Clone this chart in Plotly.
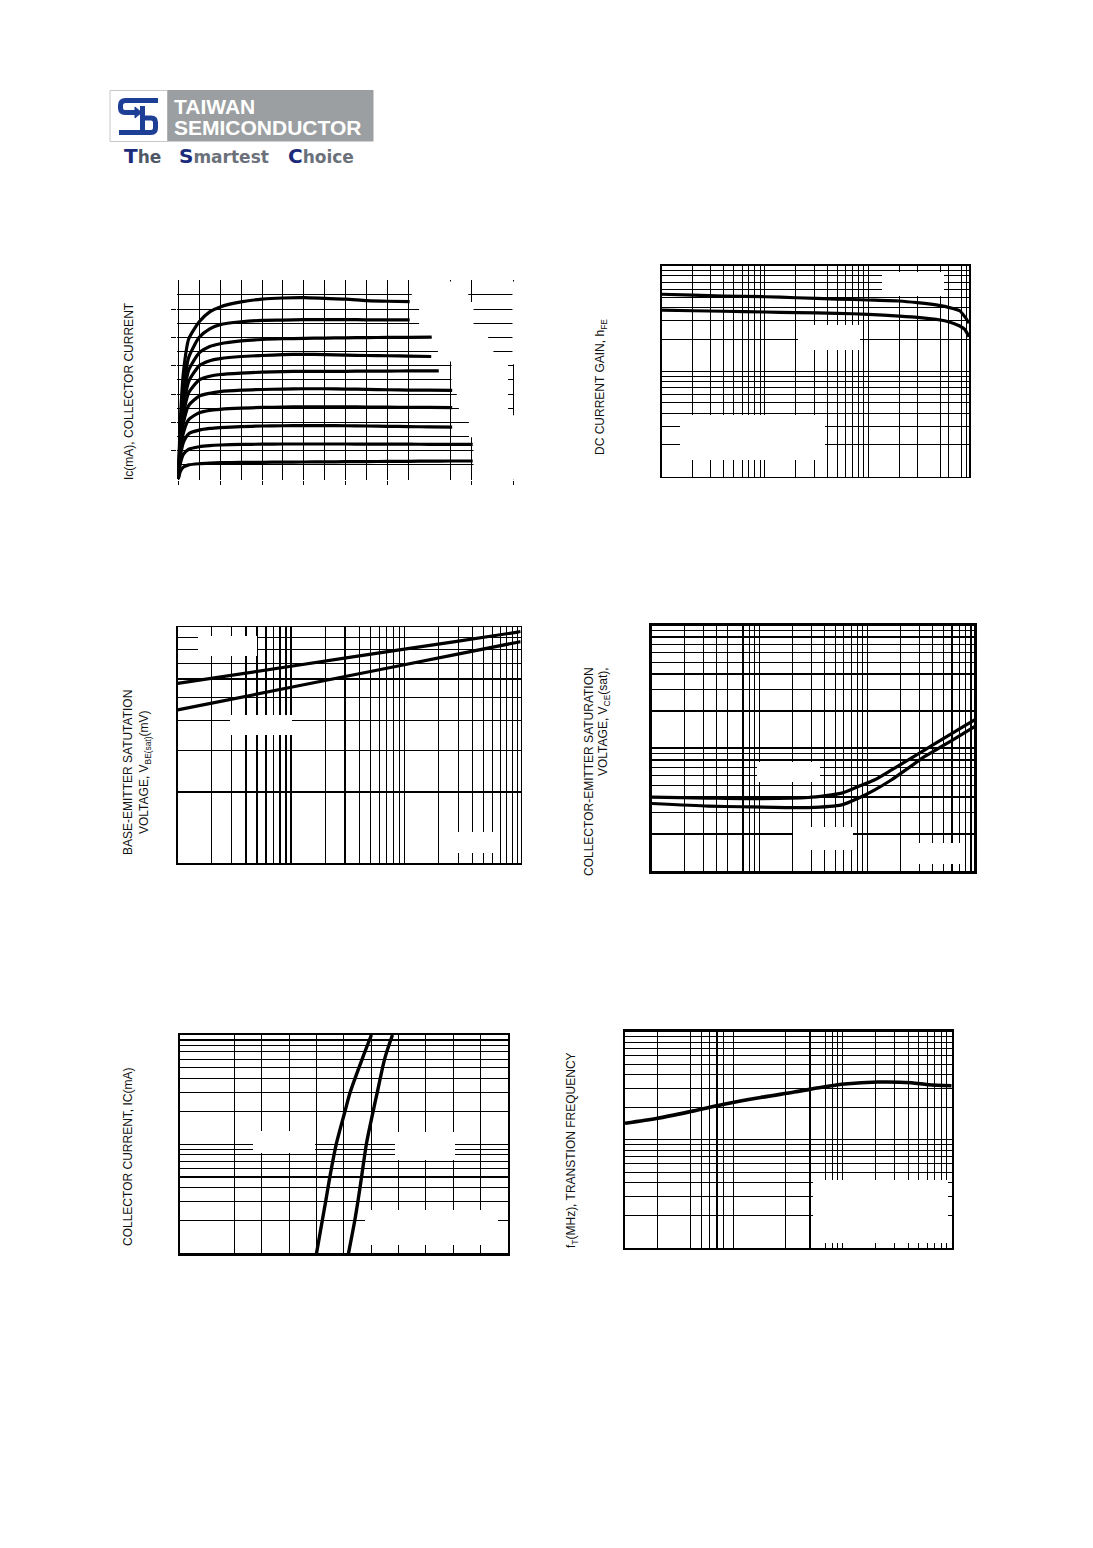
import plotly.graph_objects as go

W, H = 1093, 1548

# ================= DATA =================
# Chart 1: output characteristics, Ic (mA) vs Vce (V), one curve per base-current step
vce_pts = [0, 0.1, 0.25, 0.5, 1, 1.5, 2, 3, 4, 5, 6, 7, 8, 9, 10, 11, 12, 13]
vce_end = [11.05, 11.05, 12.1, 12.08, 12.44, 13.08, 13.08, 13.08, 14.06, 14.06]
ic_curves = [
    [0, 4.2, 7.6, 9.9, 11.1, 11.8, 12.15, 12.5, 12.7, 12.78, 12.8, 12.75, 12.7, 12.6, 12.55, 12.52],
    [0, 3.6, 6.4, 8.6, 10.0, 10.6, 10.9, 11.1, 11.2, 11.22, 11.25, 11.25, 11.25, 11.24, 11.24, 11.24],
    [0, 3.2, 5.7, 7.7, 8.9, 9.35, 9.55, 9.75, 9.85, 9.9, 9.93, 9.95, 9.97, 9.98, 10.0, 10.0, 10.02],
    [0, 2.9, 5.1, 6.9, 8.0, 8.35, 8.5, 8.65, 8.72, 8.78, 8.8, 8.78, 8.75, 8.72, 8.7, 8.68, 8.65],
    [0, 2.6, 4.6, 6.1, 7.0, 7.25, 7.38, 7.48, 7.54, 7.58, 7.6, 7.6, 7.6, 7.62, 7.62, 7.63, 7.64],
    [0, 2.3, 4.0, 5.2, 5.85, 6.05, 6.17, 6.27, 6.32, 6.35, 6.37, 6.37, 6.35, 6.33, 6.3, 6.28, 6.27, 6.25],
    [0, 2.0, 3.3, 4.2, 4.68, 4.85, 4.92, 5.0, 5.05, 5.08, 5.1, 5.1, 5.1, 5.08, 5.07, 5.06, 5.05, 5.04],
    [0, 1.6, 2.6, 3.2, 3.45, 3.57, 3.63, 3.7, 3.74, 3.76, 3.77, 3.77, 3.76, 3.74, 3.72, 3.7, 3.68, 3.66],
    [0, 1.1, 1.75, 2.1, 2.28, 2.36, 2.4, 2.44, 2.46, 2.47, 2.47, 2.47, 2.47, 2.46, 2.46, 2.46, 2.45, 2.45, 2.45],
    [0, 0.55, 0.85, 1.0, 1.08, 1.12, 1.15, 1.17, 1.18, 1.19, 1.2, 1.21, 1.22, 1.23, 1.24, 1.25, 1.26, 1.27, 1.27],
]

# Chart 2: DC current gain hFE vs Ic (mA)
ic_hfe = [1, 2, 4, 10, 20, 50, 100, 200, 300, 500, 600, 772, 863, 950]
hfe_high = [536, 527, 516, 508, 497, 483, 473, 463, 446, 418, 403, 374, 329, 286]
hfe_low = [380, 374, 370, 364, 359, 354, 346, 333, 324, 306, 294, 268, 249, 212]

# Chart 3: VBE(sat) (mV) vs Ic (mA)
ic_vbe = [1, 10, 100, 1000, 1060]
vbe_high = [576, 680, 803, 948, 953]
vbe_low = [445, 554, 690, 859, 864]

# Chart 4: VCE(sat) (mV) vs Ic (mA)
ic_vce = [1, 3.34, 6.8, 28.1, 57.3, 81.5, 116, 166, 237, 337, 482, 686, 980]
vce_high = [39.9, 39.2, 38.8, 39.6, 43.0, 48.6, 55.2, 66.5, 80.3, 96.8, 117, 141, 170]
vce_low = [35.4, 33.7, 33.3, 32.8, 34.5, 39.1, 45.7, 55.2, 68.7, 85.5, 103, 124, 150]

# Chart 5: Ic (mA) vs VBE (V)
ic_on = [1, 2.0, 3.04, 5.04, 10.2, 19.9, 30.3, 61.1, 100]
vbe_on_a = [0.500, 0.521, 0.534, 0.549, 0.573, 0.604, 0.624, 0.668, 0.701]
vbe_on_b = [0.617, 0.640, 0.652, 0.665, 0.683, 0.707, 0.723, 0.750, 0.778]

# Chart 6: fT (MHz) vs Ic (mA)
ic_ft = [1, 1.99, 3.98, 8.09, 17.6, 35.8, 72.7, 104, 210, 427, 609, 1000]
ft_mhz = [142, 158, 182, 213, 246, 276, 312, 328, 342, 337, 323, 316]

# grid positions (as drawn on the original sheet)
grid2_x = [2, 3, 4, 5, 6, 7, 8, 9, 10, 20, 30, 40, 50, 60, 70, 80, 90, 100, 200, 300, 500, 600, 800, 900]
grid2_y = [20, 30, 40, 50, 60, 70, 80, 90, 100, 200, 300, 400, 500, 600, 700, 800, 900]
grid3_x = [2, 3, 4, 5, 6, 7, 8, 9, 10, 20, 30, 40, 50, 60, 70, 80, 90, 100,
           200, 300, 400, 500, 600, 700, 800, 900, 1000]
grid3_y = [200, 300, 400, 500, 600, 700, 800, 900]
grid4_x = [2, 3, 4, 5, 7, 8, 9, 10, 20, 30, 40, 50, 60, 70, 80, 90, 100,
           200, 300, 400, 500, 600, 700, 800, 900]
grid4_y = [20, 30, 40, 50, 60, 70, 80, 90, 100, 200, 300, 400, 500, 600, 700, 800, 900]
grid5_x = [0.2, 0.3, 0.4, 0.5, 0.6, 0.7, 0.8, 0.9, 1.0, 1.1]
grid5_y = [2, 3, 4, 5, 6, 7, 8, 9, 10, 20, 30, 40, 50, 60, 70, 80, 90]
grid6_x = [2, 4, 5, 6, 7, 8, 10, 30, 50, 70, 80, 90, 100, 200, 300, 400, 500, 600, 700, 800, 900]
grid6_y = [20, 30, 40, 50, 60, 70, 80, 90, 100, 200, 300, 400, 500, 600, 700, 800, 900]

# ================= LAYOUT HELPERS =================
def dx(l, r):
    return [l / W, r / W]

def dy(t, b):
    return [1 - b / H, 1 - t / H]

def ppx(x):
    return x / W

def ppy(y):
    return 1 - y / H

PANELS = {
    2: dict(box=(661.7, 969.3, 265.7, 476.7), xt='log', xr=[0, 2.98], yt='log', yr=[1, 3]),
    3: dict(box=(177.7, 520.7, 627.3, 863.3), xt='log', xr=[0, 3.026], yt='log', yr=[2, 2.997]),
    4: dict(box=(651.7, 974.3, 625.7, 871.0), xt='log', xr=[0, 2.985], yt='log', yr=[1, 2.995]),
    5: dict(box=(180.0, 507.7, 1035.0, 1253.3), xt='linear', xr=[0, 1.2], yt='log', yr=[0, 2]),
    6: dict(box=(625.0, 951.7, 1031.7, 1247.7), xt='log', xr=[0, 3], yt='log', yr=[1, 3]),
}
FRAME = {2: 1.5, 3: 1.6, 4: 3, 5: 2.5, 6: 2.5}
GW = {2: 1, 3: 1.3, 4: 1.1, 5: 1.1, 6: 1.1}
GRIDS = {2: (grid2_x, grid2_y), 3: (grid3_x, grid3_y), 4: (grid4_x, grid4_y),
         5: (grid5_x, grid5_y), 6: (grid6_x, grid6_y)}

def px2data(n, xp, yp):
    p = PANELS[n]
    l, r, t, b = p['box']
    fx = (xp - l) / (r - l)
    fy = (b - yp) / (b - t)
    xv = p['xr'][0] + fx * (p['xr'][1] - p['xr'][0])
    yv = p['yr'][0] + fy * (p['yr'][1] - p['yr'][0])
    if p['xt'] == 'log':
        xv = 10 ** xv
    if p['yt'] == 'log':
        yv = 10 ** yv
    return xv, yv

layout = dict(width=W, height=H, margin=dict(l=0, r=0, t=0, b=0),
              paper_bgcolor='white', plot_bgcolor='white', showlegend=False)

# ---- Chart 1 axes (linear, ticks every 2 divisions) ----
c1x0, c1x1, c1y0, c1y1 = 178.3, 513.3, 479.0, 280.7   # px for x=0,16 ; y=0,14
sx = (c1x1 - c1x0) / 16
sy = (c1y0 - c1y1) / 14
xr1 = [-0.05, 16.05]
yr1 = [-0.05, 14.05]
layout['xaxis'] = dict(domain=dx(c1x0 + xr1[0] * sx, c1x0 + xr1[1] * sx), anchor='y',
                       range=xr1, tickmode='array', tickvals=[0, 2, 4, 6, 8, 10, 14, 16],
                       showticklabels=False, ticks='outside', ticklen=4, tickwidth=1, tickcolor='black',
                       showgrid=True, gridcolor='black', gridwidth=1, zeroline=False, showline=False,
                       fixedrange=True,
                       minor=dict(tickmode='array', tickvals=[1, 3, 5, 7, 9, 11, 13], showgrid=True,
                                  gridcolor='black', gridwidth=1, ticks=''))
layout['yaxis'] = dict(domain=dy(c1y0 - yr1[1] * sy, c1y0 - yr1[0] * sy), anchor='x',
                       range=yr1, tickmode='array', tickvals=[2, 4, 6, 8, 10, 12],
                       showticklabels=False, ticks='outside', ticklen=5, tickwidth=1, tickcolor='black',
                       showgrid=True, gridcolor='black', gridwidth=1, zeroline=False, showline=False,
                       fixedrange=True,
                       minor=dict(tickmode='array', tickvals=[0, 1, 3, 5, 7, 9, 11, 13, 14], showgrid=True,
                                  gridcolor='black', gridwidth=1, ticks=''))

for n, p in PANELS.items():
    l, r, t, b = p['box']
    gx, gy = GRIDS[n]
    common = dict(showticklabels=False, ticks='', showgrid=True, gridcolor='black',
                  gridwidth=GW[n], zeroline=False, showline=True, linecolor='black',
                  linewidth=FRAME[n], mirror=True, fixedrange=True, tickmode='array')
    layout[f'xaxis{n}'] = dict(domain=dx(l, r), anchor=f'y{n}', type=p['xt'], range=p['xr'],
                               tickvals=gx, **common)
    layout[f'yaxis{n}'] = dict(domain=dy(t, b), anchor=f'x{n}', type=p['yt'], range=p['yr'],
                               tickvals=gy, **common)

fig = go.Figure(layout=layout)

def add_line(x, y, n, width=3, smooth=0.8):
    xa = 'x' if n == 1 else f'x{n}'
    ya = 'y' if n == 1 else f'y{n}'
    fig.add_trace(go.Scatter(x=x, y=y, mode='lines', xaxis=xa, yaxis=ya,
                             line=dict(color='black', width=width, shape='spline', smoothing=smooth),
                             hoverinfo='skip', showlegend=False))

# ---- traces ----
for ic, xe in zip(ic_curves, vce_end):
    xs = vce_pts[:len(ic) - 1] + [xe]
    add_line(xs, ic, 1, width=3.2, smooth=0.6)

add_line(ic_hfe, hfe_high, 2, 3.2, 0.5)
add_line(ic_hfe, hfe_low, 2, 3.2, 0.5)
add_line(ic_vbe, vbe_high, 3, 3.2)
add_line(ic_vbe, vbe_low, 3, 3.2)
add_line(ic_vce, vce_high, 4, 3.2, 0.6)
add_line(ic_vce, vce_low, 4, 3.2, 0.6)
add_line(vbe_on_a, ic_on, 5, 3.4)
add_line(vbe_on_b, ic_on, 5, 3.4)
add_line(ic_ft, ft_mhz, 6, 3.6)

# ---- erased label areas (white patches over the grid, under the curves) ----
shapes = []
poly1 = [(11.15, 13.95), (13.85, 13.95), (13.85, 12.5), (14.1, 12.5), (14.1, 10.5), (14.8, 10.5),
         (14.8, 9.5), (15.05, 9.5), (15.05, 8.5), (15.75, 8.5), (15.75, 4.5), (16.3, 4.5),
         (16.3, -0.3), (14.1, -0.3), (14.1, 2.95), (13.88, 2.95), (13.88, 4.5), (13.4, 4.5),
         (13.4, 5.5), (13.3, 5.5), (13.3, 6.5), (13.05, 6.5), (13.05, 8.3), (12.4, 8.3),
         (12.4, 9.5), (12.1, 9.5), (12.1, 10.5), (11.5, 10.5), (11.5, 12.5), (11.15, 12.5)]
path1 = 'M ' + ' L '.join(f'{a},{b}' for a, b in poly1) + ' Z'
shapes.append(dict(type='path', xref='x', yref='y', path=path1, fillcolor='white',
                   line=dict(width=0), layer='between'))
shapes.append(dict(type='rect', xref='x', yref='y', x0=15.96, x1=16.3, y0=8.1, y1=13.95,
                   fillcolor='white', line=dict(width=0), layer='between'))

boxes = {
    2: [(882, 272, 944, 296), (798, 325, 860, 350), (680, 415, 825, 460)],
    3: [(198, 636, 257, 656), (230, 715, 292, 735), (458, 832, 500, 853)],
    4: [(757, 762, 820, 782), (793, 827, 853, 850), (910, 843, 962, 864)],
    5: [(253, 1131, 315, 1153), (395, 1132, 455, 1160), (365, 1210, 498, 1245)],
    6: [(813, 1180, 948, 1243)],
}
for n, lst in boxes.items():
    for (xa, ya, xb, yb) in lst:
        x0, y0 = px2data(n, xa, yb)
        x1, y1 = px2data(n, xb, ya)
        shapes.append(dict(type='rect', xref=f'x{n}', yref=f'y{n}', x0=x0, x1=x1, y0=y0, y1=y1,
                           fillcolor='white', line=dict(width=0), layer='between'))

# ---- logo ----
def ppath(cmds):
    out = []
    for c in cmds:
        if isinstance(c, str):
            out.append(c)
        else:
            out.append(f'{c[0] / W:.6f},{1 - c[1] / H:.6f}')
    return ' '.join(out)

BLUE = '#1d3f95'
shapes.append(dict(type='rect', xref='paper', yref='paper', x0=ppx(110), x1=ppx(167.5),
                   y0=ppy(141.5), y1=ppy(90.5), fillcolor='white',
                   line=dict(color='#c8c8c8', width=1), layer='above'))
shapes.append(dict(type='rect', xref='paper', yref='paper', x0=ppx(167.5), x1=ppx(373.5),
                   y0=ppy(141.5), y1=ppy(90), fillcolor='#9c9fa2', line=dict(width=0), layer='above'))
s_path = ppath(['M', (158, 100.5), 'L', (125.5, 100.5), 'Q', (120.5, 100.5), (120.5, 105.5),
                'L', (120.5, 108), 'Q', (120.5, 112.5), (125, 112.5), 'L', (137, 112.5)])
shapes.append(dict(type='path', xref='paper', yref='paper', path=s_path,
                   line=dict(color=BLUE, width=5), fillcolor='rgba(0,0,0,0)', layer='above'))
arrow = ppath(['M', (135, 107), 'L', (141.5, 112.5), 'L', (135, 118), 'Z'])
shapes.append(dict(type='path', xref='paper', yref='paper', path=arrow,
                   line=dict(color=BLUE, width=1), fillcolor=BLUE, layer='above'))
b_path = ppath(['M', (142.5, 106), 'L', (142.5, 132.5), 'M', (142.5, 118), 'L', (151, 118),
                'Q', (155.5, 118), (155.5, 122.5), 'L', (155.5, 128), 'Q', (155.5, 132.5), (151, 132.5),
                'L', (119, 132.5)])
shapes.append(dict(type='path', xref='paper', yref='paper', path=b_path,
                   line=dict(color=BLUE, width=5), fillcolor='rgba(0,0,0,0)', layer='above'))

annotations = []
def note(text, x, y, size=12, angle=0, xanchor='center', color='#111111',
         family='Liberation Sans, Arial, sans-serif'):
    annotations.append(dict(text=text, x=ppx(x), y=ppy(y), xref='paper', yref='paper',
                            showarrow=False, textangle=angle, xanchor=xanchor, yanchor='middle',
                            font=dict(size=size, color=color, family=family)))

note('<b>TAIWAN</b>', 172, 106.5, size=21, xanchor='left', color='white')
note('<b>SEMICONDUCTOR</b>', 172, 127.2, size=21, xanchor='left', color='white')
NAVY = '#1b2b7c'
GREY = '#6b717b'
tag_font = 'DejaVu Sans, Verdana, sans-serif'
note(f"<b><span style='font-size:20px;color:{NAVY}'>T</span>he</b>", 122, 156, size=17,
     xanchor='left', color='#4f5866', family=tag_font)
note(f"<b><span style='font-size:20px;color:{NAVY}'>S</span>martest</b>", 177, 156, size=17,
     xanchor='left', color=GREY, family=tag_font)
note(f"<b><span style='font-size:20px;color:{NAVY}'>C</span>hoice</b>", 286, 156, size=17,
     xanchor='left', color=GREY, family=tag_font)

# ---- axis titles ----
note('Ic(mA), COLLECTOR CURRENT', 129, 391, angle=-90)
note('DC CURRENT GAIN, h<sub>FE</sub>', 601, 387, angle=-90)
note('BASE-EMITTER SATUTATION', 128, 773, angle=-90)
note('VOLTAGE, V<sub>BE(sat)</sub>(mV)', 145, 772, angle=-90)
note('COLLECTOR-EMITTER SATURATION', 589, 772, angle=-90)
note('VOLTAGE, V<sub>CE</sub>(sat),', 604, 722, angle=-90)
note('COLLECTOR CURRENT, IC(mA)', 128, 1157, angle=-90)
note('f<sub>T</sub>(MHz), TRANSTION FREQUENCY', 572, 1150, angle=-90)

fig.update_layout(shapes=shapes, annotations=annotations)

fig.write_html('out.html', config={'displayModeBar': False, 'staticPlot': True},
               post_script="document.body.style.margin='0px';document.body.style.overflow='hidden';")
